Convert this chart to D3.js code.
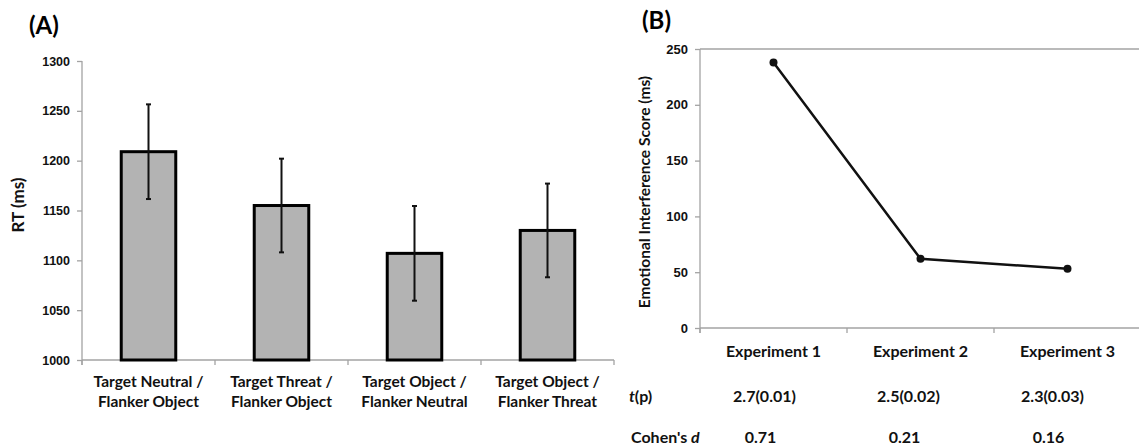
<!DOCTYPE html>
<html lang="en">
<head>
  <meta charset="UTF-8" />
  <title>RT and Emotional Interference</title>
  <style>
    body { margin: 0; background: #fff; }
    svg { display: block; font-family: Lato, "Open Sans", sans-serif; font-weight: bold; }
    .axis path, .axis line { stroke: #a3a3a3; stroke-width: 1.3; }
    .axis text { fill: #111; font-weight: bold; }
  </style>
</head>
<body>
  <svg width="1139" height="446"></svg>

  <script src="https://d3js.org/d3.v7.min.js"></script>
  <script>
    // Panel A data
    const conditions = [
      ["Target Neutral /", "Flanker Object"],
      ["Target Threat /", "Flanker Object"],
      ["Target Object /", "Flanker Neutral"],
      ["Target Object /", "Flanker Threat"]
    ];
    const meanRT = [1209, 1155, 1107, 1130];
    const errRT = [47.5, 47, 47.5, 47];
    const rtTicks = [1000, 1050, 1100, 1150, 1200, 1250, 1300];

    // Panel B data
    const experiments = ["Experiment 1", "Experiment 2", "Experiment 3"];
    const interference = [238, 62, 53];
    const scoreTicks = [0, 50, 100, 150, 200, 250];
    const tStats = ["2.7(0.01)", "2.5(0.02)", "2.3(0.03)"];
    const cohensD = ["0.71", "0.21", "0.16"];

    const svg = d3.select("svg");

    // ---------- Panel A ----------
    const xA = d3.scaleBand().domain(d3.range(conditions.length)).range([82, 614]).paddingInner(0).paddingOuter(0);
    const yA = d3.scaleLinear().domain([1000, 1300]).range([360, 61]);
    const barW = xA.bandwidth() * 0.41;

    svg.append("text").attr("x", 29).attr("y", 34).style("font-size", "24px").text("(A)");

    const yAxisA = svg.append("g").attr("class", "axis").attr("transform", "translate(82,0)")
      .call(d3.axisLeft(yA).tickValues(rtTicks).tickSize(5).tickPadding(7).tickFormat(d3.format("d")));
    yAxisA.select(".domain").attr("d", "M0,61V365");
    yAxisA.selectAll("text").style("font-size", "12.5px");

    const xAxisA = svg.append("g").attr("class", "axis").attr("transform", "translate(0,360)");
    xAxisA.append("line").attr("x1", 82).attr("x2", 614).attr("y1", 0).attr("y2", 0);
    xAxisA.selectAll(".bd").data(d3.range(conditions.length + 1)).enter().append("line")
      .attr("x1", d => 82 + d * xA.bandwidth()).attr("x2", d => 82 + d * xA.bandwidth())
      .attr("y1", 0).attr("y2", 5);

    conditions.forEach((lines, i) => {
      const cx = xA(i) + xA.bandwidth() / 2;
      lines.forEach((ln, j) => {
        svg.append("text").attr("x", cx).attr("y", 387 + j * 20)
          .attr("text-anchor", "middle").style("font-size", "15.5px").attr("fill", "#111").text(ln);
      });
    });

    svg.append("text")
      .attr("transform", "translate(24,205) rotate(-90)")
      .attr("text-anchor", "middle").style("font-size", "17px").attr("fill", "#111")
      .text("RT (ms)");

    svg.selectAll(".bar").data(meanRT).enter().append("rect")
      .attr("x", (d, i) => xA(i) + xA.bandwidth() / 2 - barW / 2)
      .attr("y", d => yA(d))
      .attr("width", barW)
      .attr("height", d => yA(1000) - yA(d))
      .attr("fill", "#b3b3b3").attr("stroke", "#000").attr("stroke-width", 3);

    meanRT.forEach((m, i) => {
      const cx = xA(i) + xA.bandwidth() / 2;
      const top = yA(m + errRT[i]), bot = yA(m - errRT[i]);
      svg.append("line").attr("x1", cx).attr("x2", cx).attr("y1", top).attr("y2", bot)
        .attr("stroke", "#111").attr("stroke-width", 2);
      [top, bot].forEach(y => {
        svg.append("line").attr("x1", cx - 2.5).attr("x2", cx + 2.5).attr("y1", y).attr("y2", y)
          .attr("stroke", "#111").attr("stroke-width", 2);
      });
    });

    // ---------- Panel B ----------
    const xB = d3.scaleBand().domain(experiments).range([700, 1141]);
    const yB = d3.scaleLinear().domain([0, 250]).range([328, 49]);

    svg.append("text").attr("x", 642).attr("y", 29).style("font-size", "24px").text("(B)");

    const yAxisB = svg.append("g").attr("class", "axis").attr("transform", "translate(700,0)")
      .call(d3.axisLeft(yB).tickValues(scoreTicks).tickSize(5).tickPadding(7));
    yAxisB.select(".domain").attr("d", "M0,49V333");
    yAxisB.selectAll("text").style("font-size", "13px");

    // top border of plot area
    svg.append("line").attr("x1", 700).attr("x2", 1141).attr("y1", yB(250)).attr("y2", yB(250))
      .attr("stroke", "#a3a3a3").attr("stroke-width", 1.3);

    const xAxisB = svg.append("g").attr("class", "axis").attr("transform", "translate(0,328)");
    xAxisB.append("line").attr("x1", 700).attr("x2", 1141).attr("y1", 0).attr("y2", 0);
    xAxisB.selectAll(".bd").data(d3.range(experiments.length + 1)).enter().append("line")
      .attr("x1", d => 700 + d * xB.bandwidth()).attr("x2", d => 700 + d * xB.bandwidth())
      .attr("y1", 0).attr("y2", 5);

    experiments.forEach(e => {
      svg.append("text").attr("x", xB(e) + xB.bandwidth() / 2).attr("y", 357)
        .attr("text-anchor", "middle").style("font-size", "16px").attr("fill", "#111").text(e);
    });

    svg.append("text")
      .attr("transform", "translate(650,192) rotate(-90)")
      .attr("text-anchor", "middle").style("font-size", "15.5px").attr("fill", "#111")
      .text("Emotional Interference Score (ms)");

    const pts = experiments.map((e, i) => [xB(e) + xB.bandwidth() / 2, yB(interference[i])]);
    svg.append("path").attr("d", d3.line()(pts))
      .attr("fill", "none").attr("stroke", "#111").attr("stroke-width", 2.5);
    svg.selectAll(".pt").data(pts).enter().append("circle")
      .attr("cx", d => d[0]).attr("cy", d => d[1]).attr("r", 4).attr("fill", "#111");

    // stats table
    const rowT = svg.append("text").attr("x", 629).attr("y", 402).style("font-size", "16px").attr("fill", "#111");
    rowT.append("tspan").style("font-style", "italic").text("t");
    rowT.append("tspan").text("(p)");
    const rowD = svg.append("text").attr("x", 631).attr("y", 443).style("font-size", "16px").attr("fill", "#111");
    rowD.append("tspan").text("Cohen's ");
    rowD.append("tspan").style("font-style", "italic").text("d");

    experiments.forEach((e, i) => {
      const cx = xB(e) + xB.bandwidth() / 2 - 9 - i * 3;
      svg.append("text").attr("x", cx).attr("y", 402).attr("text-anchor", "middle")
        .style("font-size", "16px").attr("fill", "#111").text(tStats[i]);
      svg.append("text").attr("x", cx - 4).attr("y", 443).attr("text-anchor", "middle")
        .style("font-size", "16px").attr("fill", "#111").text(cohensD[i]);
    });
  </script>
</body>
</html>
